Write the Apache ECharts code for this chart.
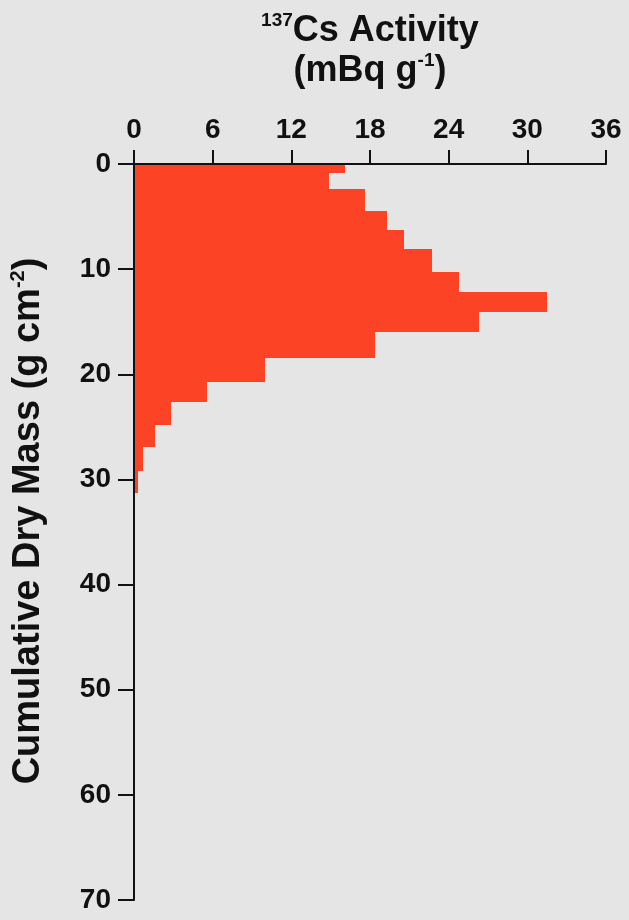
<!DOCTYPE html>
<html>
<head>
<meta charset="utf-8">
<script src="https://cdn.jsdelivr.net/npm/echarts@6/dist/echarts.min.js"></script>
<style>
html,body{margin:0;padding:0;background:#e5e5e5;}
#chart{width:629px;height:920px;}
</style>
</head>
<body>
<div id="chart"></div>
<script>
// Cumulative dry mass layer boundaries (g cm-2), top to bottom
var massEdges = [0, 0.86, 2.38, 4.51, 6.25, 8.06, 10.28, 12.22, 14.12, 16.02, 18.46, 20.78, 22.59, 24.87, 26.87, 29.18, 31.30];
// 137Cs activity per layer (mBq g-1)
var activity = [16.1, 14.85, 17.65, 19.3, 20.6, 22.7, 24.8, 31.5, 26.35, 18.4, 10.0, 5.6, 2.8, 1.6, 0.72, 0.34];
var xTicks = [0, 6, 12, 18, 24, 30, 36];
var yTicks = [0, 10, 20, 30, 40, 50, 60, 70];

var FONT = '"Liberation Sans", Arial, Helvetica, sans-serif';
var data = activity.map(function (v, i) { return [v, massEdges[i], massEdges[i + 1]]; });

var chart = echarts.init(document.getElementById('chart'), null, {renderer: 'canvas'});
chart.setOption({
  backgroundColor: '#e5e5e5',
  animation: false,
  grid: {left: 133, right: 23, top: 164, bottom: 20, containLabel: false},
  xAxis: {
    type: 'value', position: 'top', min: xTicks[0], max: xTicks[xTicks.length - 1], interval: 6, z: 5,
    name: '{sup|137}{b|Cs Activity}\n{b|(mBq g}{sup|-1}{b|)}',
    nameLocation: 'middle', nameGap: 73,
    nameTextStyle: {
      fontFamily: FONT, fontWeight: 'bold', color: '#111', align: 'center',
      rich: {
        b: {fontFamily: FONT, fontWeight: 'bold', fontSize: 36, lineHeight: 40, color: '#111'},
        sup: {fontFamily: FONT, fontWeight: 'bold', fontSize: 19, lineHeight: 22, color: '#111', verticalAlign: 'top'}
      }
    },
    axisLine: {show: true, lineStyle: {color: '#111', width: 2}},
    axisTick: {show: true, length: 14, lineStyle: {color: '#111', width: 2}},
    axisLabel: {fontFamily: FONT, fontWeight: 'bold', fontSize: 28, color: '#111', margin: 20,
      formatter: function (v) { return xTicks.indexOf(v) >= 0 ? String(v) : ''; }},
    splitLine: {show: false}
  },
  yAxis: {
    type: 'value', inverse: true, min: yTicks[0], max: yTicks[yTicks.length - 1], interval: 10, z: 5,
    name: '{b|Cumulative Dry Mass (g cm}{sup|-2}{b|)}',
    nameLocation: 'middle', nameRotate: 90, nameGap: 84,
    nameTextStyle: {
      fontFamily: FONT, fontWeight: 'bold', color: '#111', padding: [0, 0, 0, 22],
      rich: {
        b: {fontFamily: FONT, fontWeight: 'bold', fontSize: 38, lineHeight: 42, color: '#111'},
        sup: {fontFamily: FONT, fontWeight: 'bold', fontSize: 20, lineHeight: 22, color: '#111', verticalAlign: 'top'}
      }
    },
    axisLine: {show: true, lineStyle: {color: '#111', width: 2}},
    axisTick: {show: true, length: 16, lineStyle: {color: '#111', width: 2}},
    axisLabel: {fontFamily: FONT, fontWeight: 'bold', fontSize: 28, color: '#111', margin: 23,
      formatter: function (v) { return yTicks.indexOf(v) >= 0 ? String(v) : ''; }},
    splitLine: {show: false}
  },
  series: [{
    type: 'custom',
    z: 2,
    encode: {x: 0, y: [1, 2]},
    data: data,
    renderItem: function (params, api) {
      var p0 = api.coord([0, api.value(1)]);
      var p1 = api.coord([api.value(0), api.value(2)]);
      var x0 = Math.round(p0[0]), y0 = Math.round(p0[1]);
      var x1 = Math.round(p1[0]), y1 = Math.round(p1[1]);
      return {
        type: 'rect',
        shape: {x: x0, y: y0, width: x1 - x0, height: y1 - y0},
        style: {fill: '#fc4326'}
      };
    }
  }]
});
</script>
</body>
</html>
